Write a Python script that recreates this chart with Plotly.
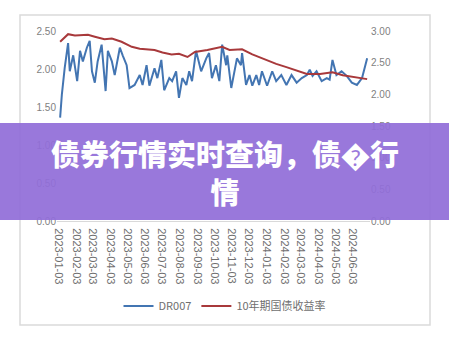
import plotly.graph_objects as go

# DR007 (left axis)
dr_dates = ["2023-01-05","2023-01-08","2023-01-13","2023-01-19","2023-01-22","2023-01-28","2023-02-04","2023-02-09",
            "2023-02-14","2023-02-21","2023-02-26","2023-03-02","2023-03-07","2023-03-12","2023-03-19","2023-03-24",
            "2023-03-26","2023-03-30","2023-04-06","2023-04-11","2023-04-20","2023-04-25","2023-05-02","2023-05-07",
            "2023-05-16","2023-05-25","2023-05-30","2023-06-06","2023-06-11","2023-06-20","2023-06-25","2023-07-02",
            "2023-07-07","2023-07-16","2023-07-21","2023-07-28","2023-08-02","2023-08-08","2023-08-15","2023-08-20",
            "2023-08-25","2023-09-01","2023-09-10","2023-09-19","2023-09-24","2023-09-29","2023-10-06","2023-10-12",
            "2023-10-17","2023-10-24","2023-10-26","2023-11-02","2023-11-07","2023-11-12","2023-11-19","2023-11-21",
            "2023-11-28","2023-12-04","2023-12-09","2023-12-16","2023-12-21","2023-12-26","2024-01-04","2024-01-13",
            "2024-01-20","2024-01-29","2024-02-07","2024-02-16","2024-02-25","2024-03-05","2024-03-14","2024-03-19",
            "2024-03-24","2024-03-31","2024-04-09","2024-04-18","2024-04-23","2024-04-28","2024-05-05","2024-05-14",
            "2024-05-23","2024-06-01","2024-06-10","2024-06-19","2024-06-28"]
dr_values = [1.36,1.66,2.01,2.34,1.97,2.18,1.84,2.24,
             2.10,2.28,2.37,1.97,1.82,2.10,2.32,1.92,
             1.71,2.24,2.10,1.92,2.28,2.18,2.05,1.75,
             1.79,1.92,1.79,2.05,1.78,2.01,1.88,2.12,
             1.72,1.88,1.84,1.97,1.62,1.88,1.79,1.97,
             1.84,2.24,1.97,2.14,2.21,1.88,2.05,1.84,
             2.32,2.05,2.18,1.75,1.97,2.14,2.05,2.21,
             1.79,1.92,1.78,1.92,1.79,1.97,1.78,1.97,
             1.84,1.92,1.79,1.92,1.82,1.88,1.92,1.99,
             1.91,1.97,1.84,1.88,1.86,2.12,1.92,1.97,
             1.91,1.82,1.79,1.88,2.14]

# 10-year government bond yield (right axis)
gb_dates = ["2023-01-05","2023-01-19","2023-01-31","2023-02-23","2023-03-07","2023-03-24","2023-04-06","2023-04-23",
            "2023-05-11","2023-05-25","2023-06-20","2023-07-04","2023-07-20","2023-08-02","2023-08-17","2023-08-30",
            "2023-09-21","2023-10-17","2023-10-30","2023-11-21","2023-12-09","2024-01-03","2024-01-20","2024-02-07",
            "2024-02-25","2024-03-14","2024-04-06","2024-04-28","2024-05-16","2024-06-10","2024-06-28"]
gb_values = [2.83,2.95,2.93,2.94,2.91,2.87,2.88,2.83,
             2.75,2.72,2.70,2.66,2.63,2.64,2.59,2.67,
             2.70,2.75,2.70,2.71,2.63,2.54,2.48,2.43,
             2.38,2.32,2.32,2.35,2.30,2.27,2.24]

tick_dates = ["2023-01-03","2023-02-03","2023-03-03","2023-04-03","2023-05-03","2023-06-03","2023-07-03","2023-08-03",
              "2023-09-03","2023-10-03","2023-11-03","2023-12-03","2024-01-03","2024-02-03","2024-03-03","2024-04-03",
              "2024-05-03","2024-06-03"]
left_ticks = [0, 0.5, 1.0, 1.5, 2.0, 2.5]
right_ticks = [0, 0.5, 1.0, 1.5, 2.0, 2.5, 3.0]

title_text = "债券行情实时查询，债\ufffd行<br>情"

W, H = 449, 344
L, R, T, B = 57, 370, 31, 221  # plot area pixels


def px(x):
    return (x - L) / (R - L)


def py(y):
    return (B - y) / (B - T)


fig = go.Figure()
fig.add_trace(go.Scatter(x=dr_dates, y=dr_values, name="DR007", mode="lines",
                         line=dict(color="#4375B2", width=2)))
fig.add_trace(go.Scatter(x=gb_dates, y=gb_values, name="10年期国债收益率", mode="lines",
                         line=dict(color="#A8393B", width=2), yaxis="y2"))

tick_font = dict(family="Liberation Sans, Arial, sans-serif", size=10, color="#7F7F7F")
xtick_font = dict(family="Liberation Sans, Arial, sans-serif", size=11, color="#6F6F6F")

fig.update_layout(
    width=W, height=H,
    margin=dict(l=L, r=W - R, t=T, b=H - B),
    paper_bgcolor="white", plot_bgcolor="white",
    showlegend=True,
    legend=dict(orientation="h", x=px(225), y=py(306), xanchor="center", yanchor="middle",
                font=dict(family="Noto Sans CJK SC, sans-serif", size=11, color="#6F6F6F"),
                bgcolor="rgba(0,0,0,0)", itemwidth=30, tracegroupgap=0),
    xaxis=dict(type="date", range=["2022-12-30 12:00", "2024-07-03"],
               tickvals=tick_dates, ticktext=tick_dates, tickangle=90,
               tickfont=xtick_font, showgrid=False, zeroline=False, ticklabelstandoff=4,
               showline=True, linecolor="#D9D9D9", linewidth=1, ticks=""),
    yaxis=dict(range=[0, 2.5], tickvals=left_ticks, tickformat=".2f", tickfont=tick_font,
               showgrid=False, zeroline=False, showline=False, ticks=""),
    yaxis2=dict(range=[0, 3.0], tickvals=right_ticks, tickformat=".2f", tickfont=tick_font,
                overlaying="y", side="right", showgrid=False, zeroline=False, showline=False, ticks=""),
    shapes=[
        dict(type="rect", xref="paper", yref="paper", x0=px(20), x1=px(430), y0=py(325), y1=py(15),
             line=dict(color="#DADADA", width=1.5), fillcolor="rgba(0,0,0,0)", layer="below"),
        dict(type="rect", xref="paper", yref="paper", x0=px(0), x1=px(449), y0=py(220), y1=py(123),
             line=dict(width=0), fillcolor="rgba(145,110,216,0.93)", layer="above"),
    ],
    annotations=[
        dict(text=title_text, xref="paper", yref="paper", x=px(224.5), y=py(172),
             xanchor="center", yanchor="middle", showarrow=False, align="center",
             font=dict(family="Noto Sans CJK SC, sans-serif", size=29, color="white", weight=900)),
    ],
)

fig.write_html("out.html")
